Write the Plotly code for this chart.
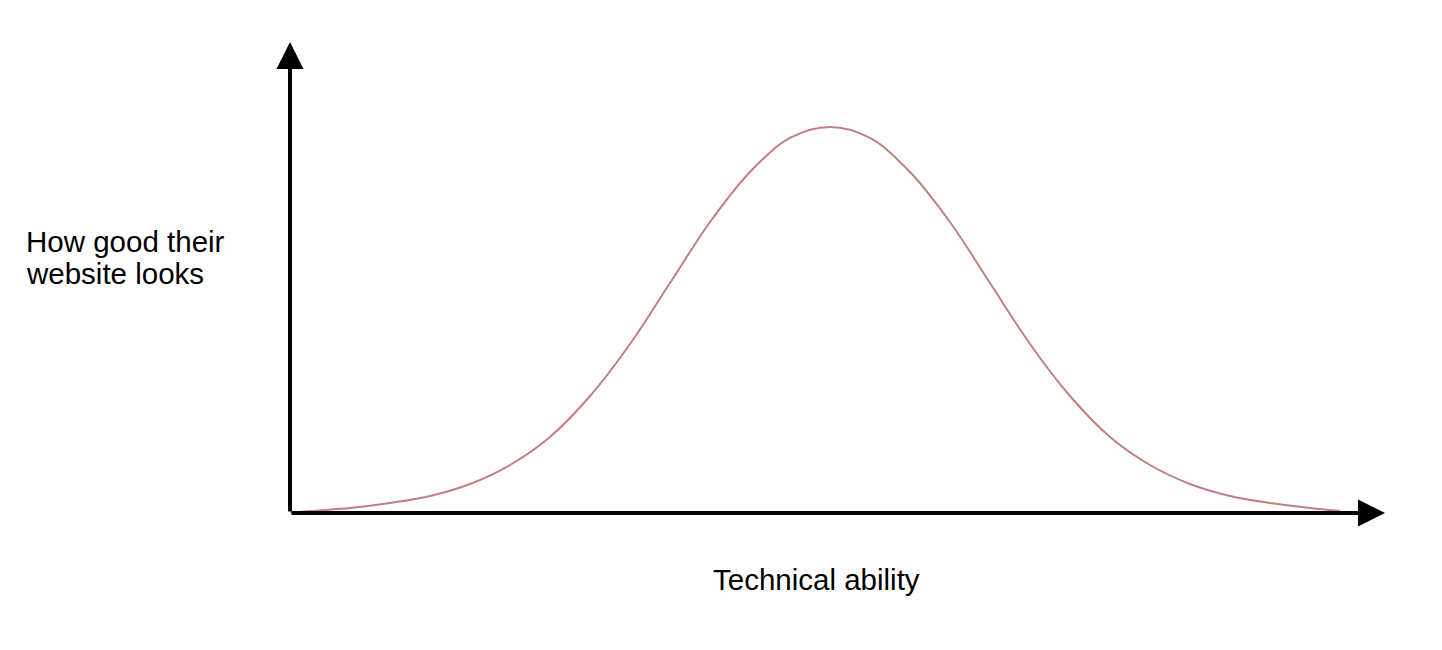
import plotly.graph_objects as go

# Data (x: technical ability 0-100, y: website looks 0-100)
ability = [0, 1.83, 5.48, 9.13, 12.79, 16.44, 20.09, 23.74, 27.40, 31.05, 34.70,
           38.36, 42.01, 45.66, 49.32, 52.97, 56.62, 60.27, 63.93, 67.58, 71.23,
           74.89, 78.54, 82.19, 85.84, 89.50, 93.15, 95.89]
looks = [0, 0.42, 1.06, 2.12, 3.61, 6.16, 10.19, 16.14, 24.84, 35.88, 48.83,
         61.78, 72.40, 79.62, 81.95, 79.62, 72.40, 61.78, 48.83, 35.88, 24.84,
         16.14, 10.19, 6.16, 3.61, 2.12, 1.06, 0.42]

x_label = "Technical ability"
y_label_lines = ["How good their", "website looks"]

FONT = dict(family="Liberation Sans, Arial, Helvetica", size=29.5, color="black")

fig = go.Figure()
fig.add_trace(go.Scatter(
    x=ability, y=looks, mode="lines",
    line=dict(color="rgb(192,128,128)", width=2, shape="spline", smoothing=1.0),
    hoverinfo="skip", showlegend=False,
))

# Axis arrows
for (x0, y0, x1, y1) in [(0, 0, 0, 100), (0, 0, 100, 0)]:
    fig.add_annotation(
        x=x1, y=y1, ax=x0, ay=y0, xref="x", yref="y", axref="x", ayref="y",
        showarrow=True, arrowhead=2, arrowsize=1.35, arrowwidth=4,
        arrowcolor="black", text="",
    )

for line, ypos in zip(y_label_lines, [0.577, 0.509]):
    fig.add_annotation(
        text=line, xref="paper", yref="paper", x=-0.243, y=ypos,
        xanchor="left", yanchor="middle", align="left", showarrow=False,
        font=FONT,
    )
fig.add_annotation(
    text=x_label, xref="paper", yref="paper", x=0.481, y=-0.142,
    xanchor="center", yanchor="middle", showarrow=False, font=FONT,
)

fig.update_layout(
    width=1442, height=650,
    margin=dict(l=282, r=65, t=34, b=145),
    plot_bgcolor="white", paper_bgcolor="white",
    xaxis=dict(range=[0, 100], visible=False, fixedrange=True),
    yaxis=dict(range=[0, 100], visible=False, fixedrange=True),
)

fig.write_html("out.html")
